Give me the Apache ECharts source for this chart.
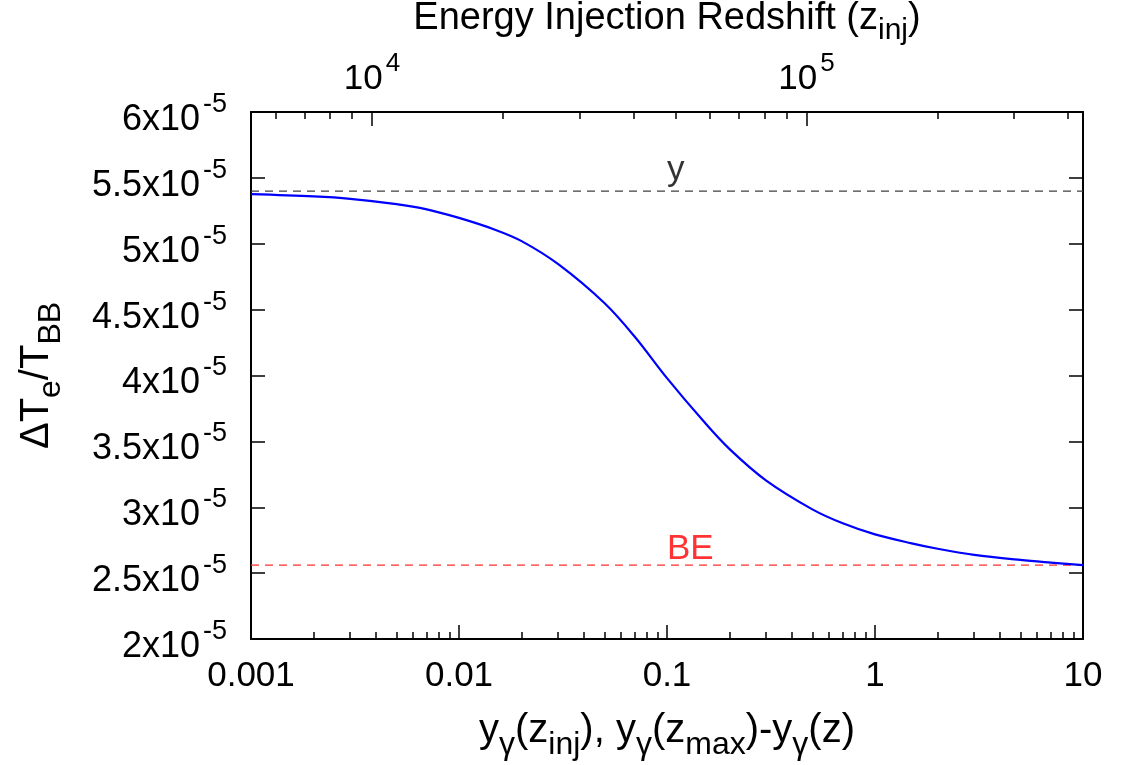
<!DOCTYPE html>
<html><head><meta charset="utf-8">
<script src="https://cdn.jsdelivr.net/npm/echarts@6/dist/echarts.min.js"></script>
<style>html,body{margin:0;padding:0;background:#fff}#chart{width:1126px;height:765px}</style>
</head><body><div id="chart"></div>
<script>
// ---- data ----
const yGamma = [0.001,0.002,0.003,0.005,0.007,0.01,0.015,0.02,0.03,0.05,0.07,0.1,0.15,0.2,0.3,0.5,0.7,1,1.5,2,3,5,7,10];
const deltaTe = [5.376e-5,5.359e-5,5.341e-5,5.301e-5,5.261e-5,5.196e-5,5.105e-5,5.02e-5,4.845e-5,4.550e-5,4.294e-5,3.980e-5,3.652e-5,3.441e-5,3.202e-5,2.984e-5,2.878e-5,2.794e-5,2.726e-5,2.685e-5,2.639e-5,2.600e-5,2.580e-5,2.561e-5];
const yLevel = 5.40e-5;
const beLevel = 2.56e-5;
const xRange = [0.001, 10];
const yRange = [2e-5, 6e-5];
const yStep = 0.5e-5;
const zRange = [5270, 432600];
const xTickValues = [0.001, 0.01, 0.1, 1, 10];
const xTickLabels = ['0.001', '0.01', '0.1', '1', '10'];
const yTickMantissas = ['2', '2.5', '3', '3.5', '4', '4.5', '5', '5.5', '6'];
const zTickValues = [1e4, 1e5];
const zTickExponents = ['4', '5'];
const annotTexts = ['y', 'BE'];
const annotX = [0.1, 0.1];
const annotY = [5.56e-5, 2.68e-5];

// ---- helpers ----
const L = Math.log10;
const FONT = 'Liberation Sans, Arial, sans-serif';
function minorTicks(lo, hi) {
  const out = [];
  for (let d = Math.floor(L(lo)); d <= Math.ceil(L(hi)); d++) {
    for (let k = 2; k <= 9; k++) {
      const v = k * Math.pow(10, d);
      if (v > lo && v < hi) out.push(L(v));
    }
  }
  return out;
}
function findIdx(arr, v) {
  for (let i = 0; i < arr.length; i++) if (Math.abs(L(arr[i]) - v) < 1e-6) return i;
  return -1;
}
function supRich(fs, ss, raise) {
  return {
    m: {fontSize: fs, lineHeight: fs, fontFamily: FONT, color: '#000', verticalAlign: 'bottom'},
    s: {fontSize: ss, lineHeight: ss, fontFamily: FONT, color: '#000', verticalAlign: 'bottom', padding: [0, 0, raise, 3]}
  };
}
function subRich(fs, ss, drop) {
  return {
    m: {fontSize: fs, lineHeight: fs, fontFamily: FONT, color: '#000', verticalAlign: 'top'},
    s: {fontSize: ss, lineHeight: ss, fontFamily: FONT, color: '#000', verticalAlign: 'top', padding: [drop, 0, 0, 0]}
  };
}
const axisLineStyle = {show: true, onZero: false, lineStyle: {color: '#000', width: 2}};
const tickStyle = {color: '#000', width: 1.5};

const chart = echarts.init(document.getElementById('chart'), null, {renderer: 'canvas'});
const curve = yGamma.map((x, i) => [L(x), deltaTe[i]]);

chart.setOption({
  backgroundColor: '#fff',
  animation: false,
  grid: {left: 251, top: 112, width: 832, height: 527, containLabel: false, outerBoundsMode: 'none'},
  xAxis: [
    {
      type: 'value', position: 'bottom', min: L(xRange[0]), max: L(xRange[1]),
      axisLine: axisLineStyle,
      axisTick: {show: true, inside: true, length: 14, lineStyle: tickStyle, customValues: xTickValues.map(L)},
      axisLabel: {
        customValues: xTickValues.map(L), margin: 20, fontSize: 35, fontFamily: FONT, color: '#000',
        formatter: v => { const i = findIdx(xTickValues, v); return i >= 0 ? xTickLabels[i] : ''; }
      },
      splitLine: {show: false},
      name: '{m|y}{s|γ}{m|(z}{s|inj}{m|), y}{s|γ}{m|(z}{s|max}{m|)-y}{s|γ}{m|(z)}',
      nameLocation: 'middle', nameGap: 72,
      nameTextStyle: {fontSize: 40, fontFamily: FONT, color: '#000', rich: subRich(40, 32, 18)}
    },
    {
      type: 'value', position: 'bottom', min: L(xRange[0]), max: L(xRange[1]),
      axisLine: {show: false},
      axisTick: {show: true, inside: true, length: 7, lineStyle: tickStyle, customValues: minorTicks(xRange[0], xRange[1])},
      axisLabel: {show: false}, splitLine: {show: false}
    },
    {
      type: 'value', position: 'top', min: L(zRange[0]), max: L(zRange[1]),
      axisLine: axisLineStyle,
      axisTick: {show: true, inside: true, length: 14, lineStyle: tickStyle, customValues: zTickValues.map(L)},
      axisLabel: {
        customValues: zTickValues.map(L), margin: 15,
        formatter: v => { const i = findIdx(zTickValues, v); return i >= 0 ? '{m|10}{s|' + zTickExponents[i] + '}' : ''; },
        rich: supRich(35, 26, 20)
      },
      splitLine: {show: false},
      name: '{m|Energy Injection Redshift (z}{s|inj}{m|)}',
      nameLocation: 'middle', nameGap: 65,
      nameTextStyle: {fontSize: 38, fontFamily: FONT, color: '#000', rich: subRich(38, 30, 17)}
    },
    {
      type: 'value', position: 'top', min: L(zRange[0]), max: L(zRange[1]),
      axisLine: {show: false},
      axisTick: {show: true, inside: true, length: 7, lineStyle: tickStyle, customValues: minorTicks(zRange[0], zRange[1])},
      axisLabel: {show: false}, splitLine: {show: false}
    }
  ],
  yAxis: [
    {
      type: 'value', position: 'left', min: yRange[0], max: yRange[1], interval: yStep,
      axisLine: axisLineStyle,
      axisTick: {show: true, inside: true, length: 14, lineStyle: tickStyle},
      axisLabel: {
        margin: 24, padding: [16, 0, 0, 0],
        formatter: v => { const i = Math.round((v - yRange[0]) / yStep); return '{m|' + yTickMantissas[i] + 'x10}{s|-5}'; },
        rich: supRich(36, 27, 20)
      },
      splitLine: {show: false},
      name: '{m|ΔT}{s|e}{m|/T}{s|BB}',
      nameLocation: 'middle', nameRotate: 90, nameGap: 194,
      nameTextStyle: {fontSize: 40, fontFamily: FONT, color: '#000', rich: subRich(40, 32, 18)}
    },
    {
      type: 'value', position: 'right', min: yRange[0], max: yRange[1], interval: yStep,
      axisLine: axisLineStyle,
      axisTick: {show: true, inside: true, length: 14, lineStyle: tickStyle},
      axisLabel: {show: false}, splitLine: {show: false}
    }
  ],
  series: [
    {
      type: 'line', name: 'y', xAxisIndex: 0, yAxisIndex: 0, symbol: 'none',
      data: [[L(xRange[0]), yLevel], [L(xRange[1]), yLevel]],
      lineStyle: {color: '#404040', width: 1.3, type: [8, 6]}, z: 2, silent: true
    },
    {
      type: 'line', name: 'BE', xAxisIndex: 0, yAxisIndex: 0, symbol: 'none',
      data: [[L(xRange[0]), beLevel], [L(xRange[1]), beLevel]],
      lineStyle: {color: '#ff3030', width: 1.3, type: [8, 6]}, z: 2, silent: true
    },
    {
      type: 'line', name: 'curve', xAxisIndex: 0, yAxisIndex: 0, symbol: 'none',
      data: curve, smooth: 0.35,
      lineStyle: {color: '#0000ff', width: 2.2}, z: 3
    },
    {
      type: 'scatter', name: 'labels', xAxisIndex: 0, yAxisIndex: 0, symbolSize: 1,
      itemStyle: {color: 'rgba(0,0,0,0)'},
      data: annotTexts.map((t, i) => ({
        name: t, value: [L(annotX[i]), annotY[i]],
        label: {color: t === 'BE' ? '#ff0000' : '#000'}
      })),
      label: {
        show: true, position: 'inside', align: 'left', verticalAlign: 'middle',
        fontSize: 35, fontFamily: FONT,
        formatter: p => p.name
      },
      labelLayout: {hideOverlap: false}, silent: true, z: 4
    }
  ]
});
</script></body></html>
